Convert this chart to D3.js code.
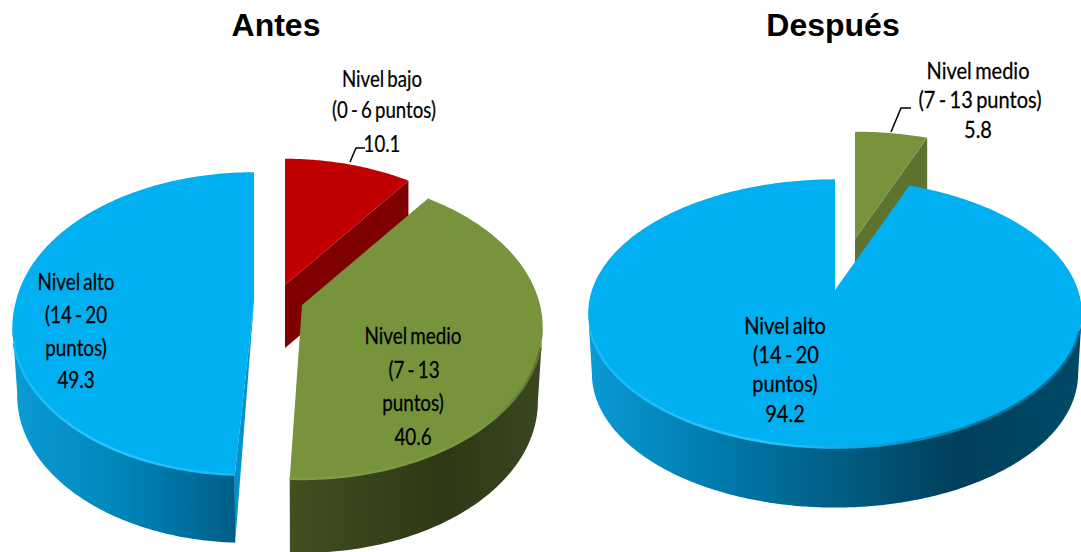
<!DOCTYPE html>
<html><head><meta charset="utf-8">
<script src="https://cdn.jsdelivr.net/npm/d3@7"></script>
<style>html,body{margin:0;background:#fff}svg{display:block}</style></head>
<body><svg id="c" width="1081" height="552"></svg>
<script>
const titles = ["Antes", "Después"];
const antesCategories = ["Nivel bajo", "Nivel medio", "Nivel alto"];
const antesValues = [10.1, 40.6, 49.3];
const despuesCategories = ["Nivel medio", "Nivel alto"];
const despuesValues = [5.8, 94.2];
const rangeLabels = {"Nivel bajo":["(0 - 6 puntos)"], "Nivel medio":["(7 - 13","puntos)"], "Nivel alto":["(14 - 20","puntos)"]};
const colors = {"Nivel bajo":"#c00000","Nivel medio":"#77933c","Nivel alto":"#00b0f0"};

const svg = d3.select("#c");
const defs = svg.append("defs");
function grad(id, x1, x2, stops){
  const g = defs.append("linearGradient").attr("id",id).attr("gradientUnits","userSpaceOnUse")
    .attr("x1",x1).attr("x2",x2).attr("y1",0).attr("y2",0);
  stops.forEach(s=>g.append("stop").attr("offset",s[0]).attr("stop-color",s[1]));
  return `url(#${id})`;
}
const line = d3.line();

function drawPie(cfg){
  const arcs = d3.pie().sort(null).value(d=>d.v)(cfg.cats.map((c,i)=>({c,v:cfg.vals[i]})));
  arcs.forEach(a=>{
    const st = cfg.slices[a.data.c];
    const ap = st.apex, sc = st.scale||1, lean = st.lean||0, depth = st.depth||cfg.depth;
    const P = th=>{ const s=1/(1+cfg.k*Math.cos(th));
      const y=-cfg.B*sc*Math.cos(th)*s;
      return [ap[0]+cfg.R*sc*Math.sin(th)*s-lean*Math.max(0,y), ap[1]+y]; };
    const down = p=>[ap[0]+(p[0]-ap[0])*cfg.shrink, p[1]+depth];
    const n = Math.max(2,Math.ceil((a.endAngle-a.startAngle)/0.01));
    const ths = d3.range(n+1).map(i=>a.startAngle+(a.endAngle-a.startAngle)*i/n);
    const rim = ths.map(P);
    const g = svg.append("g");
    // the wall begins where the rim reaches its widest point
    const front = ths.filter(t=>Math.cos(t)<-cfg.k);
    if(st.wall && front.length>1){
      const top = front.map(P);
      g.append("path").attr("d",line(top.concat(top.map(down).reverse()))+"Z").attr("fill",st.wall);
    }
    const face=(t)=>{const e=P(t);
      const pts = st.faceTri ? [ap,e,down(e)] : [ap,e,[e[0],e[1]+depth],[ap[0],ap[1]+depth]];
      g.append("path").attr("d",line(pts)+"Z").attr("fill",st.face);};
    if(st.face && Math.sin(a.endAngle)>0.01) face(a.endAngle);
    if(st.face && Math.sin(a.startAngle)<-0.01) face(a.startAngle);
    g.append("path").attr("d",line([ap].concat(rim))+"Z").attr("fill",colors[a.data.c]);
    const bev = ths.filter(t=>Math.cos(t)<-cfg.k-0.12);
    if(st.bevel && bev.length>1){
      g.append("path").attr("d",line(bev.map(P))).attr("fill","none")
        .attr("stroke",st.bevel).attr("stroke-width",2.5).attr("stroke-linecap","butt");
    }
  });
}

drawPie({cats:antesCategories, vals:antesValues, R:238, B:148, k:0.149, depth:68, shrink:0.98, slices:{
  "Nivel bajo":{apex:[285,285],face:"#7f0000",depth:63,scale:0.98},
  "Nivel medio":{apex:[302,305],depth:74,
    wall:grad("gw",293,542,[[0,"#414f21"],[0.6,"#2e3816"],[1,"#3a4720"]]),
    bevel:grad("gb",293,542,[[0,"#7f9d43"],[0.75,"#7b9a3f"],[1,"#5c7030"]])},
  "Nivel alto":{apex:[254,301],face:"#0092ca",faceTri:true,lean:0.04,
    wall:grad("bw",12,240,[[0,"#0a9bd6"],[0.5,"#0084b8"],[1,"#005d85"]]),
    bevel:grad("bb",12,240,[[0,"#18b8f5"],[0.4,"#2cc6ff"],[1,"#18b8f5"]])}
}});
drawPie({cats:despuesCategories, vals:despuesValues, R:243, B:130, k:0.175, depth:60, shrink:0.985, slices:{
  "Nivel medio":{apex:[855,239],face:"#5d7330",scale:0.97},
  "Nivel alto":{apex:[835,290],
    wall:grad("rw",588,1080,[[0,"#0a9bd6"],[0.25,"#007cae"],[0.5,"#005f85"],[0.75,"#003f5c"],[1,"#004a68"]]),
    bevel:grad("rb",588,1080,[[0,"#18b8f5"],[0.35,"#2cc6ff"],[0.6,"#0a9ed8"],[0.8,"#0a7096"],[1,"#0a6c92"]])}
}});

// leader lines
[[[350,162],[356,148],[365,148]],[[891,132],[901,108],[911,108]]].forEach(p=>
  svg.append("path").attr("d",line(p)).attr("fill","none").attr("stroke","#000").attr("stroke-width",1.5));

// titles
[[titles[0],276],[titles[1],833]].forEach(([t,x])=>
  svg.append("text").text(t).attr("x",x).attr("y",36).attr("text-anchor","middle")
   .attr("font-family","Liberation Sans").attr("font-weight","bold").attr("font-size",32).attr("fill","#000"));

// data labels
function label(lines, xs, ys, sx){
  lines.forEach((t,i)=>{
    svg.append("text").text(t).attr("text-anchor","middle")
      .attr("transform",`translate(${xs[i]},${ys[i]}) scale(${sx},1)`)
      .attr("font-family","Lato").attr("font-size",23).attr("word-spacing",-2)
      .attr("stroke","#000").attr("stroke-width",0.25).attr("fill","#000");
  });
}
const fmt = d3.format(".1f");
label(["Nivel bajo","(0 - 6 puntos)",fmt(antesValues[0])],[382,384,382],[87,118,152],0.81);
label(["Nivel medio",...rangeLabels["Nivel medio"],fmt(antesValues[1])],[413,414,413,413],[344,378,411,445],0.82);
label(["Nivel alto",...rangeLabels["Nivel alto"],fmt(antesValues[2])],[76,76,76,76],[290,323,356,388],0.82);
label(["Nivel medio","(7 - 13 puntos)",fmt(despuesValues[0])],[978,980,978],[79,108,138],0.87);
label(["Nivel alto",...rangeLabels["Nivel alto"],fmt(despuesValues[1])],[785,786,785,785],[334,363,392,422],0.87);
</script></body></html>
